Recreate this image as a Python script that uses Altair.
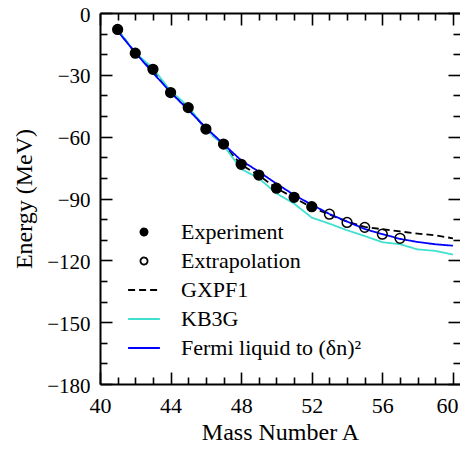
import altair as alt
import pandas as pd

# ---- data ----
A_exp = [41, 42, 43, 44, 45, 46, 47, 48, 49, 50, 51, 52]
E_exp = [-8.0, -19.5, -27.3, -38.6, -45.9, -56.3, -63.6, -73.4, -78.6, -85.0, -89.4, -94.0]
A_ext = [53, 54, 55, 56, 57]
E_ext = [-97.6, -101.6, -104.0, -107.3, -109.3]
A_th = [41, 42, 43, 44, 45, 46, 47, 48, 49, 50, 51, 52, 53, 54, 55, 56, 57, 58, 59, 60]
E_gxpf1 = [-8.0, -19.5, -27.6, -38.5, -46.0, -56.5, -64.0, -73.6, -78.8, -85.0, -89.7, -94.3,
           -97.8, -101.2, -103.8, -104.9, -106.0, -107.0, -107.9, -109.3]
E_kb3g = [-8.0, -19.3, -26.8, -37.8, -45.3, -56.3, -64.2, -75.7, -80.2, -87.5, -92.5, -99.3,
          -102.2, -105.4, -108.2, -111.2, -112.2, -114.7, -115.4, -117.2]
E_fermi = [-8.8, -19.2, -29.0, -38.5, -47.0, -55.6, -63.6, -71.5, -77.0, -82.8, -88.3, -93.0,
           -97.5, -101.2, -104.8, -107.3, -109.6, -111.1, -112.2, -112.9]

series = ["Experiment", "Extrapolation", "GXPF1", "KB3G", "Fermi liquid to (δn)²"]
x_major = [40, 44, 48, 52, 56]
x_last = [60]
x_major_ticks = [40, 44, 48, 52, 56, 60]
x_minor = [41, 42, 43, 45, 46, 47, 49, 50, 51, 53, 54, 55, 57, 58, 59]
y_major = [0, -30, -60, -90, -120, -150, -180]
y_minor = [-10, -20, -40, -50, -70, -80, -100, -110, -130, -140, -160, -170]

pts = pd.DataFrame({
    "A": A_exp + A_ext,
    "E": E_exp + E_ext,
    "series": [series[0]] * len(A_exp) + [series[1]] * len(A_ext),
})
lines = pd.DataFrame({
    "A": A_th * 3,
    "E": E_gxpf1 + E_kb3g + E_fermi,
    "series": [series[2]] * len(A_th) + [series[3]] * len(A_th) + [series[4]] * len(A_th),
})

FONT = "Liberation Serif"
xs = alt.Scale(domain=[40, 60.4], nice=False, zero=False)
ys = alt.Scale(domain=[-180, 0], nice=False, zero=False)

LINE_SYM = "M-4.5,0H4.5"
legend = alt.Legend(title=None, orient="none", legendX=33, legendY=208, labelLimit=0)

stroke_enc = alt.Stroke("series:N", scale=alt.Scale(domain=series,
                        range=["black", "black", "black", "#40E0D0", "#0000FF"]), legend=legend)
dash_enc = alt.StrokeDash("series:N", scale=alt.Scale(domain=series,
                          range=[[1, 0], [1, 0], [7, 4], [1, 0], [1, 0]]), legend=legend)
fill_enc = alt.Fill("series:N", scale=alt.Scale(domain=series,
                    range=["black", "transparent", "transparent", "transparent", "transparent"]), legend=legend)
shape_enc = alt.Shape("series:N", scale=alt.Scale(domain=series,
                      range=["circle", "circle", LINE_SYM, LINE_SYM, LINE_SYM]), legend=legend)


def tick_axis(orient, values, size, off):
    return alt.Axis(orient=orient, values=values, tickSize=size, offset=-off, labels=False,
                    domain=False, grid=False, title=None, ticks=True, tickColor="black",
                    tickWidth=1.6)


line_layer = alt.Chart(lines).mark_line(strokeWidth=1.8).encode(
    x=alt.X("A:Q", scale=xs, axis=alt.Axis(orient="bottom", values=x_major, ticks=False,
            domain=True, domainColor="black", domainWidth=2, grid=False,
            title="Mass Number A", labelPadding=11, labelFlush=False,
            labelFont=FONT, labelFontSize=22, labelColor="black",
            titleFont=FONT, titleFontSize=24, titleFontWeight="normal", titleColor="black",
            titlePadding=4)),
    y=alt.Y("E:Q", scale=ys, axis=alt.Axis(orient="left", values=y_major, ticks=False,
            domain=True, domainColor="black", domainWidth=2, grid=False,
            title="Energy (MeV)", labelPadding=10, labelOffset=2, labelFlush=False,
            labelFont=FONT, labelFontSize=21, labelColor="black",
            titleFont=FONT, titleFontSize=24, titleFontWeight="normal", titleColor="black",
            titlePadding=10)),
    stroke=stroke_enc,
    strokeDash=dash_enc,
    detail="series:N",
)

point_layer = alt.Chart(pts).mark_point(opacity=1, strokeWidth=1.5, size=95).encode(
    x=alt.X("A:Q", scale=xs, axis=tick_axis("bottom", x_major_ticks, 12, 12)),
    y=alt.Y("E:Q", scale=ys, axis=tick_axis("left", y_major, 12, 12)),
    stroke=stroke_enc,
    fill=fill_enc,
    shape=shape_enc,
)


def ghost(xa, ya):
    return alt.Chart(pts).mark_point(opacity=0).encode(
        x=alt.X("A:Q", scale=xs, axis=xa),
        y=alt.Y("E:Q", scale=ys, axis=ya),
    )


g1 = ghost(tick_axis("bottom", x_minor, 7, 7), tick_axis("left", y_minor, 7, 7))
g2 = ghost(tick_axis("top", x_major_ticks, 12, 12), tick_axis("right", y_major, 12, 12))
g3 = ghost(tick_axis("top", x_minor, 7, 7), tick_axis("right", y_minor, 7, 7))
g4 = ghost(
    alt.Axis(orient="top", ticks=False, labels=False, domain=True, domainColor="black",
             domainWidth=2, grid=False, title=None),
    alt.Axis(orient="right", ticks=False, labels=False, domain=False, grid=False, title=None),
)
# last x label, nudged left so that it stays inside the page
g5 = ghost(
    alt.Axis(orient="bottom", values=x_last, ticks=False, domain=False, grid=False,
             title=None, labelPadding=11, labelFlush=False, labelOffset=-6,
             labelFont=FONT, labelFontSize=22, labelColor="black"),
    alt.Axis(orient="right", ticks=False, labels=False, domain=False, grid=False, title=None),
)

chart = alt.layer(line_layer, point_layer, g1, g2, g3, g4, g5).resolve_axis(
    x="independent", y="independent"
).properties(
    width=360, height=371,
    padding={"left": 92, "top": 5, "right": 0, "bottom": 60},
    autosize=alt.AutoSizeParams(type="none"),
).configure_view(stroke=None).configure_legend(
    labelFont=FONT, labelFontSize=22, labelColor="black", labelOffset=26,
    rowPadding=7, symbolStrokeWidth=1.8, symbolSize=50, padding=0, labelLimit=0,
)

chart.save("out.html", embed_options={"renderer": "svg", "actions": False})
